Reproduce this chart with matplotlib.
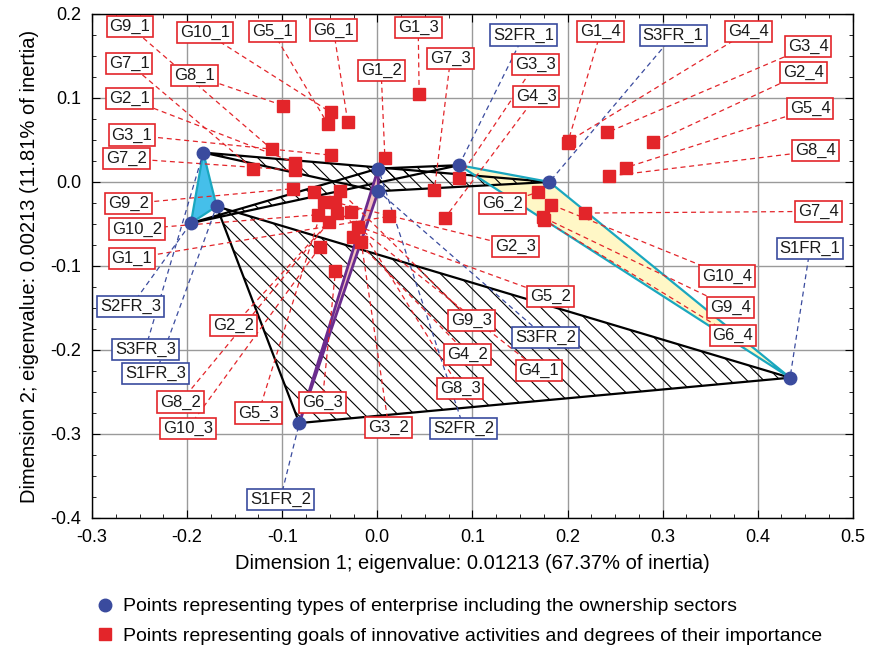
import matplotlib

matplotlib.use("Agg")
import matplotlib.pyplot as plt
from matplotlib.lines import Line2D
from matplotlib.patches import Polygon
from matplotlib.ticker import MultipleLocator

matplotlib.rcParams.update(
    {
        "font.family": ["Liberation Sans", "DejaVu Sans"],
        "hatch.linewidth": 0.8,
    }
)

BLUE = "#3A4B9E"
RED = "#E3252A"

# types of enterprise (blue circles)
TYPE_NAMES = ["S1FR_1", "S2FR_1", "S3FR_1", "S1FR_2", "S2FR_2", "S3FR_2",
              "S1FR_3", "S2FR_3", "S3FR_3"]
TYPE_X = [0.434, 0.086, 0.181, -0.082, 0.001, 0.001, -0.169, -0.196, -0.183]
TYPE_Y = [-0.233, 0.020, 0.000, -0.287, 0.016, -0.011, -0.029, -0.049, 0.035]

# goals of innovative activities (red squares)
GOAL_NAMES = [
    "G1_1", "G2_1", "G3_1", "G4_1", "G5_1", "G6_1", "G7_1", "G8_1", "G9_1", "G10_1",
    "G1_2", "G2_2", "G3_2", "G4_2", "G5_2", "G6_2", "G7_2", "G8_2", "G9_2", "G10_2",
    "G1_3", "G2_3", "G3_3", "G4_3", "G5_3", "G6_3", "G7_3", "G8_3", "G9_3", "G10_3",
    "G1_4", "G2_4", "G3_4", "G4_4", "G5_4", "G6_4", "G7_4", "G8_4", "G9_4", "G10_4",
]
GOAL_X = [
    0.012, -0.087, -0.049, -0.067, -0.052, -0.031, -0.131, -0.099, -0.111, -0.049,
    0.008, -0.042, -0.017, -0.026, -0.020, 0.169, -0.087, -0.051, -0.089, -0.062,
    0.044, -0.045, 0.086, 0.071, -0.056, -0.044, 0.060, -0.028, -0.039, -0.060,
    0.200, 0.290, 0.242, 0.202, 0.261, 0.175, 0.218, 0.244, 0.174, 0.183,
]
GOAL_Y = [
    -0.041, 0.023, 0.032, -0.012, 0.069, 0.071, 0.016, 0.091, 0.039, 0.083,
    0.028, -0.037, -0.071, -0.065, -0.053, -0.012, 0.014, -0.048, -0.008, -0.039,
    0.105, -0.024, 0.005, -0.043, -0.024, -0.106, -0.010, -0.036, -0.011, -0.077,
    0.046, 0.047, 0.059, 0.049, 0.017, -0.045, -0.037, 0.007, -0.042, -0.027,
]

# convex shapes joining the enterprise points
HATCHED_SETS = [
    ["S1FR_1", "S1FR_2", "S1FR_3"],
    ["S2FR_1", "S2FR_2", "S2FR_3"],
    ["S3FR_1", "S3FR_2", "S3FR_3"],
]

# label box positions (layout only)
LABEL_POS = {
    "G9_1": (-0.260, 0.185), "G10_1": (-0.181, 0.178), "G5_1": (-0.110, 0.179),
    "G6_1": (-0.046, 0.181), "G1_3": (0.043, 0.184), "S2FR_1": (0.154, 0.175),
    "G1_4": (0.235, 0.179), "S3FR_1": (0.311, 0.174), "G4_4": (0.390, 0.179),
    "G3_4": (0.453, 0.161), "G2_4": (0.448, 0.130), "G5_4": (0.455, 0.087),
    "G8_4": (0.461, 0.037), "G7_1": (-0.261, 0.141), "G8_1": (-0.192, 0.127),
    "G2_1": (-0.261, 0.099), "G3_1": (-0.258, 0.056), "G7_2": (-0.264, 0.028),
    "G1_2": (0.004, 0.133), "G7_3": (0.077, 0.147), "G3_3": (0.166, 0.140),
    "G4_3": (0.167, 0.102), "G9_2": (-0.262, -0.026), "G10_2": (-0.253, -0.056),
    "G1_1": (-0.258, -0.091), "S2FR_3": (-0.259, -0.148), "S3FR_3": (-0.244, -0.199),
    "S1FR_3": (-0.233, -0.228), "G2_2": (-0.151, -0.171), "G8_2": (-0.207, -0.262),
    "G10_3": (-0.199, -0.293), "G5_3": (-0.125, -0.275), "G6_3": (-0.058, -0.263),
    "S1FR_2": (-0.102, -0.378), "G3_2": (0.012, -0.292), "S2FR_2": (0.091, -0.293),
    "G8_3": (0.087, -0.246), "G4_2": (0.095, -0.205), "G4_1": (0.170, -0.224),
    "G9_3": (0.099, -0.165), "S3FR_2": (0.177, -0.185), "G5_2": (0.182, -0.136),
    "G2_3": (0.145, -0.077), "G6_2": (0.132, -0.026), "G7_4": (0.464, -0.035),
    "S1FR_1": (0.455, -0.079), "G10_4": (0.368, -0.112), "G9_4": (0.371, -0.149),
    "G6_4": (0.374, -0.183),
}


def main():
    types = {n: (x, y) for n, x, y in zip(TYPE_NAMES, TYPE_X, TYPE_Y)}
    goals = {n: (x, y) for n, x, y in zip(GOAL_NAMES, GOAL_X, GOAL_Y)}

    fig = plt.figure(figsize=(8.72, 6.47), dpi=100)
    ax = fig.add_axes([0.1055, 0.1994, 0.8725, 0.7790])

    # coloured triangles per degree (_1 yellow, _3 cyan) under the hatching
    tri1 = [types[n] for n in ("S2FR_1", "S3FR_1", "S1FR_1")]
    ax.add_patch(Polygon(tri1, closed=True, fc="#FFF7C6", ec="none", zorder=1))
    tri3 = [types[n] for n in ("S3FR_3", "S1FR_3", "S2FR_3")]
    ax.add_patch(Polygon(tri3, closed=True, fc="#45BFEA", ec="none", zorder=1))

    for names in HATCHED_SETS:
        pts = [types[n] for n in names]
        ax.add_patch(Polygon(pts, closed=True, fill=False, hatch="\\\\",
                             ec="black", lw=1.6, zorder=2))

    tri2 = [types[n] for n in ("S1FR_2", "S2FR_2", "S3FR_2")]
    ax.add_patch(Polygon(tri2, closed=True, fc="#F5C4BE", ec="#6B2C8E",
                         lw=2.0, zorder=2.5))
    ax.add_patch(Polygon(tri1, closed=True, fill=False, ec="#1AA7BF",
                         lw=1.6, zorder=2.6))
    ax.add_patch(Polygon(tri3, closed=True, fill=False, ec="#1AA7BF",
                         lw=1.6, zorder=2.6))

    # leader lines and labels
    for name, (lx, ly) in LABEL_POS.items():
        is_type = name.startswith("S")
        px, py = types[name] if is_type else goals[name]
        col = BLUE if is_type else RED
        ax.plot([lx, px], [ly, py], color=col, lw=0.9, ls=(0, (4, 3)), zorder=3)
        ax.text(lx, ly, name, ha="center", va="center", fontsize=12,
                color="#1a1a1a",
                bbox=dict(boxstyle="square,pad=0.18", fc="white", ec=col, lw=1.2),
                zorder=6)

    ax.plot(GOAL_X, GOAL_Y, ls="none", marker="s", ms=8, color=RED, zorder=5)
    ax.plot(TYPE_X, TYPE_Y, ls="none", marker="o", ms=9, color=BLUE, zorder=5)

    ax.set_xlim(-0.3, 0.5)
    ax.set_ylim(-0.4, 0.2)
    ax.xaxis.set_major_locator(MultipleLocator(0.1))
    ax.yaxis.set_major_locator(MultipleLocator(0.1))
    ax.xaxis.set_minor_locator(MultipleLocator(0.025))
    ax.yaxis.set_minor_locator(MultipleLocator(0.025))
    ax.xaxis.set_major_formatter(lambda v, p: f"{v:.1f}".replace("-0.0", "0.0"))
    ax.yaxis.set_major_formatter(lambda v, p: f"{v:.1f}".replace("-0.0", "0.0"))
    ax.tick_params(which="both", direction="in", top=True, right=True,
                   labelsize=13, pad=8)
    ax.tick_params(which="major", length=6)
    ax.tick_params(which="minor", length=3)
    ax.grid(True, which="major", color="#9a9a9a", lw=1.0)
    ax.set_axisbelow(True)
    for sp in ax.spines.values():
        sp.set_linewidth(1.0)

    ax.set_xlabel("Dimension 1; eigenvalue: 0.01213 (67.37% of inertia)",
                  fontsize=14.5, labelpad=6)
    ax.set_ylabel("Dimension 2; eigenvalue: 0.00213 (11.81% of inertia)",
                  fontsize=14.5, labelpad=8)

    handles = [
        Line2D([], [], ls="none", marker="o", ms=9, color=BLUE),
        Line2D([], [], ls="none", marker="s", ms=8, color=RED),
    ]
    fig.legend(
        handles,
        [
            "Points representing types of enterprise including the ownership sectors",
            "Points representing goals of innovative activities and degrees of their importance",
        ],
        loc="upper left",
        bbox_to_anchor=(0.112, 0.076),
        frameon=False,
        fontsize=14,
        handlelength=0.8,
        handletextpad=0.5,
        labelspacing=0.6,
        borderaxespad=0,
        borderpad=0,
    )

    fig.savefig("out.png", dpi=100)


if __name__ == "__main__":
    main()
